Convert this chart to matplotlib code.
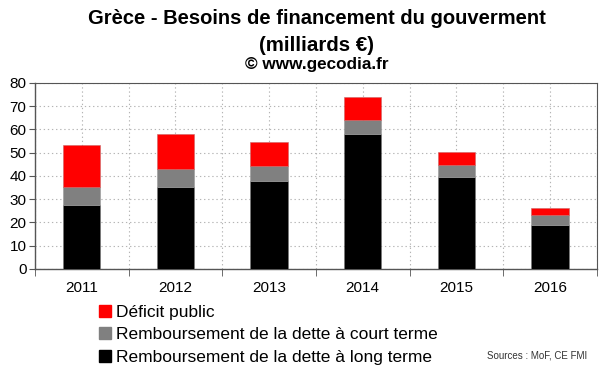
import numpy as np
import matplotlib
matplotlib.use("Agg")
import matplotlib.pyplot as plt
from matplotlib.patches import Patch

plt.rcParams['font.family'] = ['Liberation Sans', 'DejaVu Sans']

years = ['2011', '2012', '2013', '2014', '2015', '2016']
long_terme = [27.3, 35.4, 37.8, 58.0, 39.7, 18.8]
court_terme = [8.1, 7.5, 6.5, 6.0, 5.2, 4.6]
deficit = [18.1, 15.1, 10.3, 10.0, 5.3, 2.8]

c_long = '#000000'
c_court = '#808080'
c_def = '#ff0000'

fig = plt.figure(figsize=(6.0, 3.72), dpi=100)
ax = fig.add_axes([0.058, 0.277, 0.937, 0.5])

x = np.arange(len(years))
w = 0.4
bot2 = np.array(long_terme)
bot3 = bot2 + np.array(court_terme)
ax.bar(x, long_terme, w, color=c_long, edgecolor='#777777', linewidth=0.4, zorder=3)
ax.bar(x, court_terme, w, bottom=bot2, color=c_court, edgecolor='#999999', linewidth=0.4, zorder=3)
ax.bar(x, deficit, w, bottom=bot3, color=c_def, edgecolor='#cc6666', linewidth=0.4, zorder=3)

ax.set_xlim(-0.5, len(years) - 0.5)
ax.set_ylim(0, 80)
ax.set_yticks(range(0, 81, 10))
ax.set_xticks(x)
ax.set_xticklabels(years)
ax.set_xticks(np.arange(-0.5, len(years), 1), minor=True)
ax.tick_params(axis='x', which='major', length=0, pad=9, labelsize=11)
ax.tick_params(axis='x', which='minor', length=5, direction='out', color='#555555')
ax.tick_params(axis='y', length=4, direction='out', labelsize=11, pad=2, color='#555555')

ax.grid(True, which='both', axis='x', color='#b4b4b4', linestyle=(0, (1.2, 2.5)), linewidth=0.8, zorder=0)
ax.grid(True, which='major', axis='y', color='#b4b4b4', linestyle=(0, (1.2, 2.5)), linewidth=0.8, zorder=0)

for s in ['top', 'right']:
    ax.spines[s].set_color('#555555')
    ax.spines[s].set_linewidth(0.8)
for s in ['left', 'bottom']:
    ax.spines[s].set_color('#555555')
    ax.spines[s].set_linewidth(1.0)

cx = 0.5275
fig.text(cx, 0.950, "Grèce - Besoins de financement du gouverment",
         ha='center', va='center', fontsize=14.5, fontweight='bold')
fig.text(cx, 0.879, "(milliards €)", ha='center', va='center',
         fontsize=14.8, fontweight='bold')
fig.text(cx, 0.826, "© www.gecodia.fr", ha='center', va='center',
         fontsize=12.3, fontweight='bold')

handles = [Patch(color=c_def, label='Déficit public'),
           Patch(color=c_court, label='Remboursement de la dette à court terme'),
           Patch(color=c_long, label='Remboursement de la dette à long terme')]
fig.legend(handles=handles, loc='upper left', bbox_to_anchor=(0.165, 0.18),
           frameon=False, fontsize=12.5, handlelength=0.7, handleheight=0.7,
           handletextpad=0.3, labelspacing=0.41, borderaxespad=0, borderpad=0)

fig.text(0.978, 0.045, "Sources : MoF, CE FMI", ha='right', va='center',
         fontsize=7, color='#333333')

fig.savefig('out.png', dpi=100)
